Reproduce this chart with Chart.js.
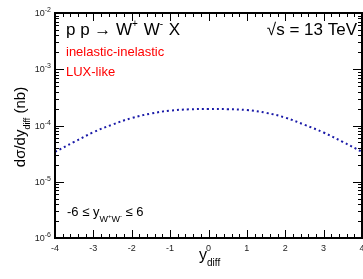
<!DOCTYPE html>
<html>
<head>
<meta charset="utf-8">
<script src="https://cdn.jsdelivr.net/npm/chart.js@4"></script>
<style>
  html, body { margin: 0; padding: 0; background: #fff; }
  #wrap { width: 363px; height: 279px; }
</style>
</head>
<body>
<div id="wrap"><canvas id="c" width="363" height="279"></canvas></div>
<script>
// values
const yDiff = [-4, -3.5, -3, -2.5, -2, -1.5, -1, -0.5, 0, 0.5, 1, 1.5, 2, 2.5, 3, 3.5, 4];
const dSigma = [3.4e-5, 5.1e-5, 7.6e-5, 1.04e-4, 1.36e-4, 1.63e-4, 1.84e-4, 1.94e-4, 1.96e-4,
                1.95e-4, 1.88e-4, 1.68e-4, 1.38e-4, 1.03e-4, 7.5e-5, 5.1e-5, 3.4e-5];
const xTicks = [-4, -3, -2, -1, 0, 1, 2, 3, 4];
const yDecades = [-6, -5, -4, -3, -2];

const FONT = "'Liberation Sans', Arial, sans-serif";

// frame, ticks and labels drawn ROOT-style
const framePlugin = {
  id: "frame",
  afterDraw(chart) {
    const ctx = chart.ctx;
    const a = chart.chartArea;
    const xs = chart.scales.x, ys = chart.scales.y;
    ctx.save();
    ctx.strokeStyle = "#000";
    ctx.lineWidth = 1;

    // x ticks (bottom + top)
    for (let v = -4; v <= 4.001; v += 0.2) {
      const px = Math.round(xs.getPixelForValue(v)) + 0.5;
      const major = Math.abs(v - Math.round(v)) < 1e-6;
      const len = major ? 8 : 4;
      ctx.beginPath();
      ctx.moveTo(px, a.bottom); ctx.lineTo(px, a.bottom - len);
      ctx.moveTo(px, a.top); ctx.lineTo(px, a.top + len);
      ctx.stroke();
    }
    // y ticks (left + right)
    for (const d of yDecades) {
      for (let m = 1; m <= 9; m++) {
        if (d === -2 && m > 1) break;
        const py = Math.round(ys.getPixelForValue(m * Math.pow(10, d))) + 0.5;
        const len = m === 1 ? 9 : 4;
        ctx.beginPath();
        ctx.moveTo(a.left, py); ctx.lineTo(a.left + len, py);
        ctx.moveTo(a.right, py); ctx.lineTo(a.right - len, py);
        ctx.stroke();
      }
    }
    // frame
    ctx.lineWidth = 2;
    ctx.strokeRect(a.left, a.top, a.right - a.left, a.bottom - a.top);

    // x tick labels
    ctx.fillStyle = "#222";
    ctx.font = "9px " + FONT;
    ctx.textAlign = "center";
    ctx.textBaseline = "alphabetic";
    for (const t of xTicks) {
      ctx.fillText(String(t), xs.getPixelForValue(t), 251);
    }
    // y tick labels 10^d
    for (const d of yDecades) {
      const py = ys.getPixelForValue(Math.pow(10, d));
      ctx.font = "7px " + FONT;
      ctx.textAlign = "right";
      const sup = String(d);
      ctx.fillText(sup, 51, py - 1);
      const sw = ctx.measureText(sup).width;
      ctx.font = "9px " + FONT;
      ctx.fillText("10", 51 - sw, py + 3);
    }

    // texts
    ctx.fillStyle = "#000";
    ctx.textAlign = "left";
    const put = (txt, x, y, size) => {
      ctx.font = size + "px " + FONT;
      ctx.fillText(txt, x, y);
      return x + ctx.measureText(txt).width;
    };
    let x = put("p p \u2192 W", 66, 35, 17);
    x = put("+", x, 27, 10);
    x = put(" W", x + 1, 35, 17);
    x = put("-", x, 27, 10);
    put(" X", x + 1, 35, 17);

    ctx.textAlign = "right";
    ctx.font = "17px " + FONT;
    ctx.fillText("\u221As = 13 TeV", 357, 35);

    ctx.textAlign = "left";
    ctx.fillStyle = "#ff0000";
    put("inelastic-inelastic", 66, 56, 13);
    put("LUX-like", 66, 76, 13);

    ctx.fillStyle = "#000";
    x = put("-6 \u2264 y", 67, 216, 13);
    x = put("W", x, 222, 9);
    x = put("+", x, 218, 6);
    x = put("W", x, 222, 9);
    x = put("-", x, 218, 6);
    put(" \u2264 6", x, 216, 13);

    // x title
    x = put("y", 199, 260, 16);
    put("diff", x, 266, 10);

    // y title rotated
    ctx.translate(25, 127);
    ctx.rotate(-Math.PI / 2);
    ctx.font = "15px " + FONT;
    const w1 = ctx.measureText("d\u03c3/dy").width;
    ctx.font = "9px " + FONT;
    const w2 = ctx.measureText("diff").width;
    ctx.font = "15px " + FONT;
    const w3 = ctx.measureText(" (nb)").width;
    let sx = -(w1 + w2 + w3) / 2;
    sx = put("d\u03c3/dy", sx, 0, 15);
    sx = put("diff", sx, 5, 9);
    put(" (nb)", sx, 0, 15);

    ctx.restore();
  }
};

new Chart(document.getElementById("c").getContext("2d"), {
  type: "line",
  data: {
    labels: yDiff,
    datasets: [{
      data: yDiff.map((v, i) => ({ x: v, y: dSigma[i] })),
      borderColor: "#1a1aa8",
      borderWidth: 2,
      borderDash: [2, 3],
      pointRadius: 0,
      tension: 0.4,
      fill: false
    }]
  },
  options: {
    responsive: false,
    animation: false,
    layout: { padding: { left: 55, top: 13, right: 1, bottom: 41 } },
    plugins: { legend: { display: false }, tooltip: { enabled: false } },
    scales: {
      x: { type: "linear", min: -4, max: 4, display: false },
      y: { type: "logarithmic", min: 1e-6, max: 1e-2, display: false }
    }
  },
  plugins: [framePlugin]
});
</script>
</body>
</html>
